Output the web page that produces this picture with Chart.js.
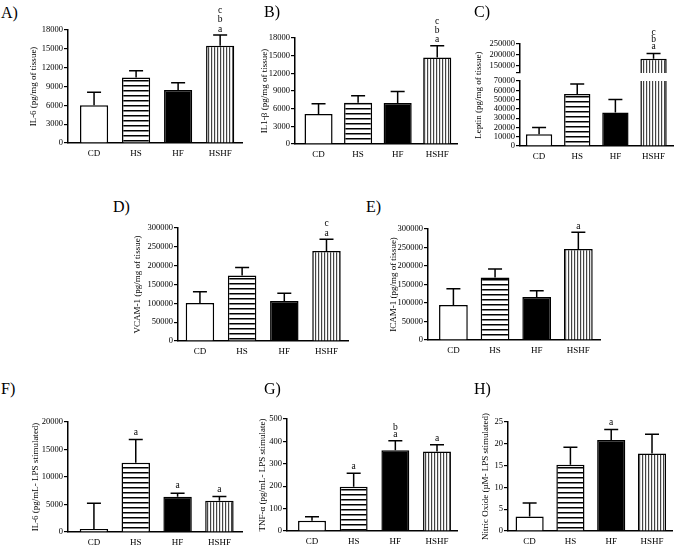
<!DOCTYPE html>
<html><head><meta charset="utf-8">
<script src="https://cdn.jsdelivr.net/npm/chart.js@4.4.0/dist/chart.umd.min.js"></script>
<style>
html,body{margin:0;padding:0;background:#fff;}
body{width:675px;height:547px;position:relative;overflow:hidden;font-family:'Liberation Serif','Times New Roman',serif;color:#000;}
.pl{position:absolute;font-size:16px;line-height:16px;}
canvas{position:absolute;}
.rt{position:absolute;font-size:9px;line-height:12px;height:12px;text-align:center;white-space:nowrap;transform:rotate(-90deg);color:#000;}
</style></head><body>
<script>
// ---------- data ----------
const categories = ["CD", "HS", "HF", "HSHF"];

const il6TissueMean = [6000, 10450, 8450, 15500];
const il6TissueErr  = [2100, 1050, 1150, 1700];
const il6TissueSig  = [[], [], [], ["a", "b", "c"]];
const il6TissueTicks = [0, 3000, 6000, 9000, 12000, 15000, 18000];

const il1bMean = [5100, 7000, 6950, 14700];
const il1bErr  = [1750, 1200, 1950, 2000];
const il1bSig  = [[], [], [], ["a", "b", "c"]];
const il1bTicks = [0, 3000, 6000, 9000, 12000, 15000, 18000];

const leptinMean = [12600, 56000, 36100, 183000];
const leptinErr  = [7300, 10800, 14100, 24000];
const leptinSig  = [[], [], [], ["a", "b", "c"]];
const leptinTicksLow  = [0, 10000, 20000, 30000, 40000, 50000, 60000, 70000];
const leptinTicksHigh = [150000, 200000, 250000];

const vcamMean = [101000, 174000, 106000, 239000];
const vcamErr  = [30000, 21000, 20500, 31000];
const vcamSig  = [[], [], [], ["a", "c"]];
const vcamTicks = [0, 50000, 100000, 150000, 200000, 250000, 300000];

const icamMean = [94500, 169000, 116000, 246000];
const icamErr  = [44000, 23000, 17000, 45000];
const icamSig  = [[], [], [], ["a"]];
const icamTicks = [0, 50000, 100000, 150000, 200000, 250000, 300000];

const il6LpsMean = [540, 12600, 6400, 5700];
const il6LpsErr  = [4700, 4200, 650, 750];
const il6LpsSig  = [[], ["a"], ["a"], ["a"]];
const il6LpsTicks = [0, 5000, 10000, 15000, 20000];

const tnfMean = [46, 198, 361, 355];
const tnfErr  = [18, 60, 42, 30];
const tnfSig  = [[], ["a"], ["a", "b"], ["a"]];
const tnfTicks = [0, 100, 200, 300, 400, 500];

const noMean = [3.3, 15.2, 20.9, 17.8];
const noErr  = [3.1, 4.0, 2.4, 4.4];
const noSig  = [[], [], ["a"], []];
const noTicks = [0, 5, 10, 15, 20, 25];

// ---------- setup ----------
Chart.defaults.font.family = "'Liberation Serif','Times New Roman',serif";
Chart.defaults.font.size = 9;
Chart.defaults.color = '#000';

const FONT = "'Liberation Serif','Times New Roman',serif";

const errPlugin = {
  id: 'errbars',
  afterDatasetsDraw(chart, args, o) {
    const ctx = chart.ctx, x = chart.scales.x, y = chart.scales.y;
    ctx.save();
    ctx.strokeStyle = '#000'; ctx.fillStyle = '#000'; ctx.lineWidth = 1.5;
    ctx.font = "9.5px " + FONT; ctx.textAlign = 'center'; ctx.textBaseline = 'middle';
    o.mean.forEach((m, i) => {
      if (m < y.min || m > y.max) return;
      const px = x.getPixelForValue(i);
      const y0 = y.getPixelForValue(m);
      const y1 = y.getPixelForValue(m + o.err[i]);
      ctx.beginPath();
      ctx.moveTo(px, y0); ctx.lineTo(px, y1);
      ctx.moveTo(px - 7, y1); ctx.lineTo(px + 7, y1);
      ctx.stroke();
      (o.sig[i] || []).forEach((s, k) => ctx.fillText(s, px, y1 - o.offset - k * o.spacing));
    });
    ctx.restore();
  }
};

function patterns(ctx) {
  const a = document.createElement('canvas'); a.width = 4; a.height = 5;
  const g = a.getContext('2d'); g.fillStyle = '#fff'; g.fillRect(0, 0, 4, 5);
  g.fillStyle = '#000'; g.fillRect(0, 0, 4, 1.5);
  const b = document.createElement('canvas'); b.width = 3; b.height = 4;
  const h = b.getContext('2d'); h.fillStyle = '#fff'; h.fillRect(0, 0, 3, 4);
  h.fillStyle = '#444'; h.fillRect(0, 0, 1, 4);
  h.fillStyle = '#ddd'; h.fillRect(1, 0, 1, 4);
  return ['#fff', ctx.createPattern(a, 'repeat'), '#000', ctx.createPattern(b, 'repeat')];
}

function label(text, left, top) {
  const d = document.createElement('div'); d.className = 'pl';
  d.style.left = left + 'px'; d.style.top = top + 'px'; d.textContent = text;
  document.body.appendChild(d);
}

function rotTitle(text, cx, cy, w) {
  const d = document.createElement('div'); d.className = 'rt';
  d.style.width = w + 'px'; d.style.left = (cx - w / 2) + 'px'; d.style.top = (cy - 6) + 'px';
  d.textContent = text; document.body.appendChild(d);
}

function panel(p) {
  const cvLeft = Math.round(p.canvasLeft !== undefined ? p.canvasLeft : p.titleX - 5.4);
  const yW = p.axisX - cvLeft;
  const padTop = 30;
  const cvTop = p.yTop - padTop;
  const xH = p.noX ? 0 : 20;
  const padBottom = p.noX ? 8 : 0;
  const w = p.xEnd - cvLeft + 4;
  const h = p.yBottom - cvTop + xH + padBottom;
  const cv = document.createElement('canvas');
  cv.width = w; cv.height = h;
  cv.style.left = cvLeft + 'px'; cv.style.top = cvTop + 'px';
  cv.style.width = w + 'px'; cv.style.height = h + 'px';
  document.body.appendChild(cv);
  const ctx = cv.getContext('2d');
  const fills = patterns(ctx);
  new Chart(ctx, {
    type: 'bar',
    data: {
      datasets: [{
        data: p.mean.map((v, i) => ({ x: i, y: v })),
        backgroundColor: fills,
        borderColor: '#000', borderWidth: 1.5,
        barPercentage: p.barPct, categoryPercentage: 1,
        clip: p.clip !== undefined ? p.clip : { left: 5, right: 5, top: 5, bottom: 5 }
      }]
    },
    options: {
      responsive: false, animation: false, events: [],
      devicePixelRatio: 1,
      layout: { padding: { left: 0, right: 4, top: padTop, bottom: padBottom } },
      plugins: {
        legend: { display: false }, tooltip: { enabled: false },
        errbars: { mean: p.mean, err: p.err, sig: p.sig, offset: p.offset || 7, spacing: p.spacing || 8 }
      },
      scales: {
        x: {
          type: 'linear', display: !p.noX, min: p.xMin, max: p.xMax, offset: false,
          afterBuildTicks: s => { s.ticks = categories.map((c, i) => ({ value: i })); },
          afterFit: s => { s.height = xH; },
          ticks: { callback: v => categories[v], font: { size: 9 }, color: '#000', padding: 5, maxRotation: 0, autoSkip: false },
          grid: { display: false, drawTicks: false, offset: false },
          border: { display: true, color: '#000', width: 1.5 }
        },
        y: {
          type: 'linear', min: p.yMin, max: p.yMax,
          afterBuildTicks: s => {
            const t = p.ticks.map(v => ({ value: v }));
            if (p.minTick) t.unshift({ value: p.yMin });
            s.ticks = t;
          },
          afterFit: s => { s.width = yW; },
          ticks: { callback: v => (p.minTick && v === p.yMin) ? '' : String(v), font: { size: 8.5 }, color: '#000', padding: 1, autoSkip: false },
          grid: { drawOnChartArea: false, drawTicks: true, tickLength: 4, color: '#000', lineWidth: 1.2 },
          border: { display: true, color: '#000', width: 1.5 },
          title: { display: !!p.title, text: p.title || '', font: { size: 9 }, color: '#000', padding: 0 }
        }
      }
    },
    plugins: [errPlugin]
  });
}

// ---------- panels ----------
panel({ title: "IL-6 (pg/mg of tissue)", titleX: 33, axisX: 68, xEnd: 242, yTop: 30, yBottom: 143,
  xMin: -0.62, xMax: 3.52, yMin: 0, yMax: 18000, barPct: 0.67, spacing: 9.5, offset: 6,
  mean: il6TissueMean, err: il6TissueErr, sig: il6TissueSig, ticks: il6TissueTicks });

panel({ title: "IL1-\u03b2 (pg/mg of tissue)", titleX: 264, axisX: 295, xEnd: 457, yTop: 38, yBottom: 144,
  xMin: -0.595, xMax: 3.5, yMin: 0, yMax: 18000, barPct: 0.71, spacing: 9, offset: 6.5,
  mean: il1bMean, err: il1bErr, sig: il1bSig, ticks: il1bTicks });

// Leptin: broken axis, two stacked charts
panel({ canvasLeft: 484, axisX: 520, xEnd: 673, yTop: 44, yBottom: 73, noX: true,
  xMin: -0.5, xMax: 3.51, yMin: 118000, yMax: 250000, minTick: true, barPct: 0.69, spacing: 7, offset: 6.5,
  clip: { left: 5, right: 5, top: 5, bottom: 0 },
  mean: leptinMean, err: leptinErr, sig: leptinSig, ticks: leptinTicksHigh });
panel({ canvasLeft: 484, axisX: 520, xEnd: 673, yTop: 81, yBottom: 146,
  xMin: -0.5, xMax: 3.51, yMin: 0, yMax: 70000, barPct: 0.69, spacing: 7, offset: 6.5,
  clip: { left: 5, right: 5, top: 0, bottom: 5 },
  mean: leptinMean, err: leptinErr, sig: leptinSig, ticks: leptinTicksLow });
rotTitle("Leptin (pg/mg of tissue)", 478, 95, 120);

panel({ title: "VCAM-1 (pg/mg of tissue)", titleX: 137, axisX: 178, xEnd: 348, yTop: 228, yBottom: 341,
  xMin: -0.52, xMax: 3.51, yMin: 0, yMax: 300000, barPct: 0.675, spacing: 10, offset: 6,
  mean: vcamMean, err: vcamErr, sig: vcamSig, ticks: vcamTicks });

panel({ title: "ICAM-1 (pg/mg of tissue)", titleX: 393, axisX: 428, xEnd: 600, yTop: 229, yBottom: 340,
  xMin: -0.61, xMax: 3.52, yMin: 0, yMax: 300000, barPct: 0.69, spacing: 9, offset: 6,
  mean: icamMean, err: icamErr, sig: icamSig, ticks: icamTicks });

panel({ title: "IL-6 (pg/mL- LPS stimulated)", titleX: 35, axisX: 68, xEnd: 242, yTop: 422, yBottom: 532,
  xMin: -0.62, xMax: 3.54, yMin: 0, yMax: 20000, barPct: 0.68, spacing: 8, offset: 7.5,
  mean: il6LpsMean, err: il6LpsErr, sig: il6LpsSig, ticks: il6LpsTicks });

panel({ title: "TNF-\u03b1 (pg/mL- LPS stimulate)", titleX: 262, axisX: 287, xEnd: 457, yTop: 419, yBottom: 531,
  xMin: -0.6, xMax: 3.48, yMin: 0, yMax: 500, barPct: 0.67, spacing: 7, offset: 6.5,
  mean: tnfMean, err: tnfErr, sig: tnfSig, ticks: tnfTicks });

panel({ title: "Nitric Oxide (\u00b5M- LPS stimulated)", titleX: 485, axisX: 508, xEnd: 672, yTop: 422, yBottom: 531,
  xMin: -0.53, xMax: 3.49, yMin: 0, yMax: 25, barPct: 0.69, spacing: 8, offset: 7,
  mean: noMean, err: noErr, sig: noSig, ticks: noTicks });

label("A)", 1, 5);
label("B)", 264, 4);
label("C)", 474, 4);
label("D)", 113, 199);
label("E)", 366, 199);
label("F)", 1, 381);
label("G)", 264, 381);
label("H)", 474, 381);
</script>
</body></html>
